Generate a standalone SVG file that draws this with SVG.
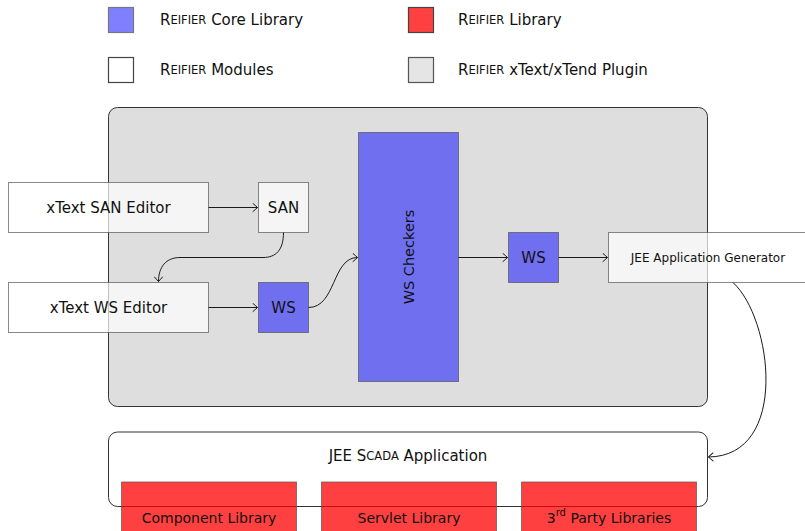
<svg xmlns="http://www.w3.org/2000/svg" width="805" height="531" viewBox="0 0 805 531">
  <style>
    text { font-family: "DejaVu Sans", "Liberation Sans", sans-serif; fill: #111; }
    .lbl { font-size: 15px; text-anchor: middle; dominant-baseline: central; }
    .lib-t { font-size: 14px; text-anchor: middle; dominant-baseline: central; }
    .leg { font-size: 15px; dominant-baseline: central; }
    .sc { font-size: 11.5px; }
    .small { font-size: 12px; text-anchor: middle; dominant-baseline: central; }
    .edge { fill: none; stroke: #1a1a1a; stroke-width: 1; }
    .mod { fill: #ffffff; fill-opacity: 0.7; stroke: #555; stroke-opacity: 0.7; stroke-width: 1; }
    .core { fill: #0000ff; fill-opacity: 0.5; stroke: #555; stroke-opacity: 0.7; stroke-width: 1; }
    .lib { fill: #ff0000; fill-opacity: 0.75; stroke: #555; stroke-opacity: 0.7; stroke-width: 1; }
    .frame { stroke: #333; stroke-width: 1; }
  </style>
  <defs>
    <marker id="arr" viewBox="-6 -5 8 10" markerWidth="8" markerHeight="10" refX="0" refY="0" orient="auto" markerUnits="userSpaceOnUse">
      <path d="M-4.5,-4 Q-1,-1 0,0 Q-1,1 -4.5,4" fill="none" stroke="#1a1a1a" stroke-width="1" stroke-linecap="round"/>
    </marker>
  </defs>
  <rect width="805" height="531" fill="#ffffff"/>

  <!-- legend -->
  <g id="legend">
    <rect x="108.5" y="7.5" width="25" height="25" fill="#8080ff" stroke="#777" stroke-width="1.2"/>
    <text class="leg" x="160" y="19.5">R<tspan class="sc">EIFIER</tspan> Core Library</text>
    <rect x="408.5" y="7.5" width="25" height="25" fill="#ff4040" stroke="#444" stroke-width="1.2"/>
    <text class="leg" x="458" y="19.5">R<tspan class="sc">EIFIER</tspan> Library</text>
    <rect x="108.5" y="57.5" width="25" height="25" fill="#ffffff" stroke="#444" stroke-width="1.2"/>
    <text class="leg" x="160" y="70">R<tspan class="sc">EIFIER</tspan> Modules</text>
    <rect x="408.5" y="57.5" width="25" height="25" fill="#e5e5e5" stroke="#555" stroke-width="1.2"/>
    <text class="leg" x="458" y="69.5">R<tspan class="sc">EIFIER</tspan> xText/xTend Plugin</text>
  </g>

  <!-- plugin frame -->
  <g id="plugin">
    <rect class="frame" x="108.5" y="107.5" width="599" height="299" rx="9" fill="#dedede"/>
  </g>

  <!-- application frame -->
  <g id="app">
    <rect class="frame" x="108.5" y="432" width="599" height="74.5" rx="9" fill="#ffffff"/>
    <text class="lbl" x="408" y="456">JEE S<tspan class="sc">CADA</tspan> Application</text>
  </g>

  <g id="san-editor">
    <rect class="mod" x="8.5" y="182.5" width="200" height="50"/>
    <text class="lbl" x="108.5" y="207.5">xText SAN Editor</text>
  </g>
  <g id="ws-editor">
    <rect class="mod" x="8.5" y="282.5" width="200" height="50"/>
    <text class="lbl" x="108.5" y="307.5">xText WS Editor</text>
  </g>
  <g id="san">
    <rect class="mod" x="258.5" y="182.5" width="50" height="50"/>
    <text class="lbl" x="283.5" y="207.5">SAN</text>
  </g>
  <g id="ws-in">
    <rect class="core" x="258.5" y="282.5" width="50" height="50"/>
    <text class="lbl" x="283.5" y="307.5">WS</text>
  </g>
  <g id="checkers">
    <rect class="core" x="358.5" y="132.5" width="100" height="249"/>
    <text class="lbl" transform="translate(408.5,257) rotate(-90)" x="0" y="0" style="font-size:14.5px">WS Checkers</text>
  </g>
  <g id="ws-out">
    <rect class="core" x="508.5" y="232.5" width="50" height="50"/>
    <text class="lbl" x="533.5" y="257.5">WS</text>
  </g>
  <g id="generator">
    <rect class="mod" x="608.5" y="232.5" width="200" height="50"/>
    <text class="small" x="708" y="257.5">JEE Application Generator</text>
  </g>

  <g id="component-lib">
    <rect class="lib" x="121.5" y="482" width="175" height="52"/>
    <text class="lib-t" x="209" y="518">Component Library</text>
  </g>
  <g id="servlet-lib">
    <rect class="lib" x="321.5" y="482" width="175" height="52"/>
    <text class="lib-t" x="409" y="518">Servlet Library</text>
  </g>
  <g id="third-party">
    <rect class="lib" x="521.5" y="482" width="175" height="52"/>
    <text class="lib-t" x="609" y="518">3<tspan font-size="10" dy="-6">rd</tspan><tspan dy="6"> Party Libraries</tspan></text>
  </g>

  <!-- connectors -->
  <g id="connectors">
    <path class="edge" d="M208.5,207.5 H257.5" marker-end="url(#arr)"/>
    <path class="edge" d="M283.5,232.5 C283.5,250 276,257.5 263,257.5 H180 C166,257.5 158.5,267 158.5,281.5" marker-end="url(#arr)"/>
    <path class="edge" d="M208.5,307.5 H257.5" marker-end="url(#arr)"/>
    <path class="edge" d="M308.5,307.5 C336,307.5 332,257.5 357.5,257.5" marker-end="url(#arr)"/>
    <path class="edge" d="M458.5,257.5 H507.5" marker-end="url(#arr)"/>
    <path class="edge" d="M558.5,257.5 H607.5" marker-end="url(#arr)"/>
    <path class="edge" d="M733,282.5 C772,318 790,456 708.5,457" marker-end="url(#arr)"/>
  </g>
</svg>
